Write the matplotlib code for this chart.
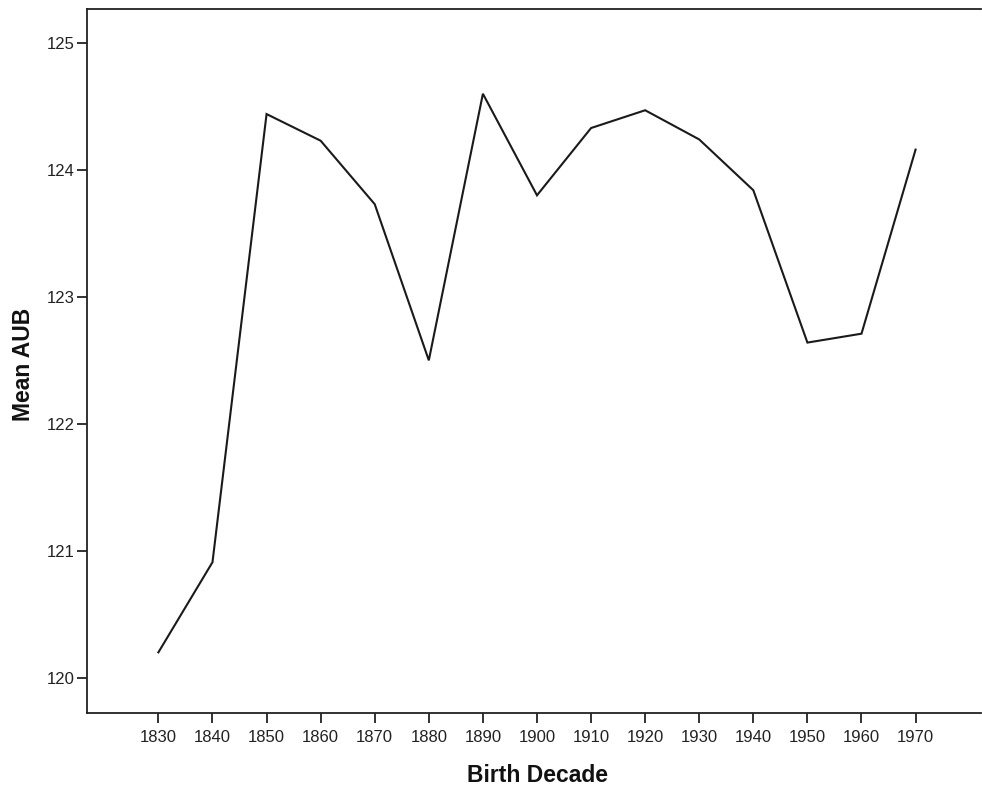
import matplotlib
matplotlib.use("Agg")
import matplotlib.pyplot as plt

# Mean AUB by birth decade
decades = ["1830", "1840", "1850", "1860", "1870", "1880", "1890", "1900",
           "1910", "1920", "1930", "1940", "1950", "1960", "1970"]
mean_aub = [120.20, 120.91, 124.44, 124.23, 123.73, 122.50, 124.60, 123.80,
            124.33, 124.47, 124.24, 123.84, 122.64, 122.71, 124.16]
y_ticks = [120, 121, 122, 123, 124, 125]

plt.rcParams["font.family"] = ["Liberation Sans", "DejaVu Sans"]

fig = plt.figure(figsize=(9.82, 7.90), dpi=100)
ax = fig.add_axes([0.0886, 0.0971, 0.9104, 0.8919])

x = list(range(len(decades)))
ax.plot(x, mean_aub, color="#1a1a1a", linewidth=1.5, solid_joinstyle="miter")

ax.set_xlim(-1.32, 15.21)
ax.set_ylim(119.72, 125.27)
ax.set_xticks(x)
ax.set_xticklabels(decades)
ax.set_yticks(y_ticks)
ax.set_yticklabels([str(v) for v in y_ticks])

for side in ["left", "bottom", "top"]:
    ax.spines[side].set_linewidth(1.3)
    ax.spines[side].set_color("#222222")
ax.spines["right"].set_visible(False)

ax.tick_params(axis="both", direction="out", length=7, width=1.3,
               color="#222222", labelsize=12, labelcolor="#222222")
ax.tick_params(axis="x", pad=5)
ax.tick_params(axis="y", pad=2)

ax.set_xlabel("Birth Decade", fontsize=16.5, fontweight="bold", color="#111111",
              va="center")
ax.set_ylabel("Mean AUB", fontsize=16.5, fontweight="bold", color="#111111",
              va="center")
ax.xaxis.set_label_coords(0.5036, -0.0876)
ax.yaxis.set_label_coords(-0.0705, 0.4957)

fig.savefig("out.png", dpi=100, facecolor="white")
